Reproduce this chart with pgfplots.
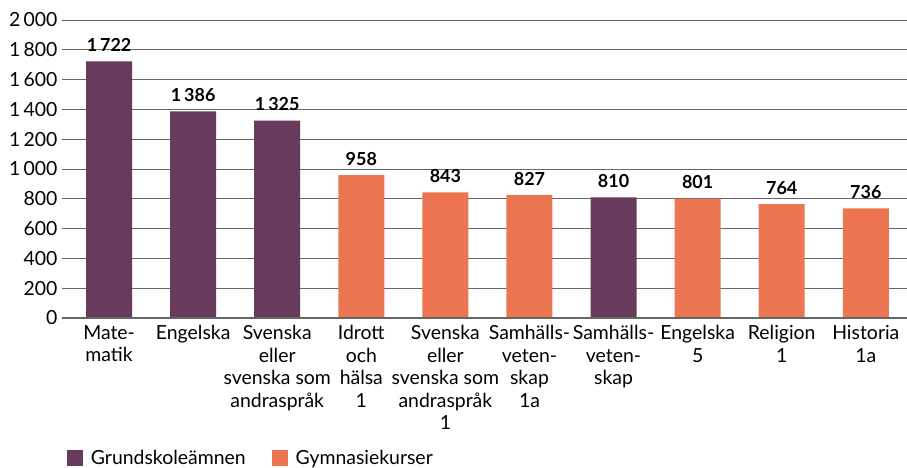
\documentclass[border=0pt]{standalone}
\usepackage{pgfplots}
\pgfplotsset{compat=1.18}
\usepackage{fontspec}
\setmainfont{Lato}
\definecolor{grund}{RGB}{104,58,92}
\definecolor{gymn}{RGB}{236,117,82}
\begin{document}
\begin{tikzpicture}[x=1bp,y=1bp]
\useasboundingbox (0,0) rectangle (907,468);
\begin{axis}[
  at={(62bp,150bp)}, anchor=south west,
  scale only axis, width=845bp, height=298bp,
  xmin=-0.56, xmax=9.49, ymin=0, ymax=2000,
  ytick={0,200,...,2000},
  xtick={0,...,9},
  xticklabels={{Mate-\\matik},{Engelska},{Svenska\\eller\\svenska som\\andraspråk},{Idrott\\och\\hälsa\\1},{Svenska\\eller\\svenska som\\andraspråk\\1},{Samhälls-\\veten-\\skap\\1a},{Samhälls-\\veten-\\skap},{Engelska\\5},{Religion\\1},{Historia\\1a}},
  xticklabel style={align=center, font=\fontsize{19.5}{22.6}\selectfont, yshift=-4bp},
  yticklabel style={font=\fontsize{19.5}{22}\selectfont, xshift=-1bp},
  /pgf/number format/.cd, 1000 sep={\,}, assume math mode=true, /pgfplots/.cd,
  axis line style={draw=none},
  axis x line*=bottom, axis y line*=left,
  major tick length=0pt,
  ymajorgrids, grid style={black!60, line width=0.8bp},
  ybar, bar width=46bp, bar shift=0pt,
  nodes near coords,
  every node near coord/.append style={font=\fontsize{18}{21}\selectfont\bfseries, yshift=6bp},
  legend style={at={(rel axis cs:0.002,-0.47)}, anchor=west, draw=none, legend columns=2,
    font=\fontsize{19.5}{22}\selectfont,
    /tikz/every even column/.append style={column sep=24bp}},
  legend image code/.code={\fill[#1] (0bp,-8bp) rectangle (16bp,8bp); \path (22bp,0bp);},
]
\addplot[fill=grund, draw=none] coordinates {(0,1722) (1,1386) (2,1325) (6,810)};
\addlegendentry{Grundskoleämnen}
\addplot[fill=gymn, draw=none] coordinates {(3,958) (4,843) (5,827) (7,801) (8,764) (9,736)};
\addlegendentry{Gymnasiekurser}
\draw[black!60, line width=1bp] (rel axis cs:0,0) -- (rel axis cs:1,0);
\end{axis}
\end{tikzpicture}
\end{document}
